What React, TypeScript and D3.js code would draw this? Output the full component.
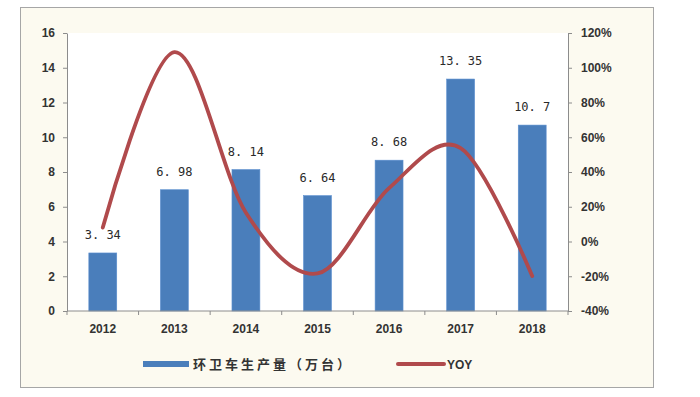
import { useEffect, useRef } from 'react';
import * as d3 from 'd3';

const years = ['2012', '2013', '2014', '2015', '2016', '2017', '2018'];
const output = [3.34, 6.98, 8.14, 6.64, 8.68, 13.35, 10.7];
const yoy = [0.08, 1.09, 0.166, -0.184, 0.307, 0.538, -0.199];
const leftTicks = [0, 2, 4, 6, 8, 10, 12, 14, 16];
const rightTicks = [-0.4, -0.2, 0, 0.2, 0.4, 0.6, 0.8, 1.0, 1.2];

const W = 700;
const H = 397;
const PLOT = { left: 67, right: 568, top: 33, bottom: 311 };
const FONT = '"Liberation Sans", Arial, sans-serif';

export default function App() {
  const svgRef = useRef<SVGSVGElement>(null);

  useEffect(() => {
    const svg = d3.select(svgRef.current!);
    svg.selectAll('*').remove();

    // outer frame
    svg.append('rect').attr('width', W).attr('height', H).attr('fill', '#ffffff');
    svg.append('rect')
      .attr('x', 20.5).attr('y', 7.5).attr('width', 633).attr('height', 380)
      .attr('fill', '#fcfaf0').attr('stroke', '#a6a6a6').attr('stroke-width', 1);
    svg.append('rect')
      .attr('x', PLOT.left).attr('y', PLOT.top)
      .attr('width', PLOT.right - PLOT.left).attr('height', PLOT.bottom - PLOT.top)
      .attr('fill', '#ffffff');

    const x = d3.scaleBand().domain(years).range([PLOT.left, PLOT.right]).paddingInner(0.61).paddingOuter(0.305);
    const y = d3.scaleLinear().domain([0, 16]).range([PLOT.bottom, PLOT.top]);
    const y2 = d3.scaleLinear().domain([-0.4, 1.2]).range([PLOT.bottom, PLOT.top]);
    const xc = (d: string) => x(d)! + x.bandwidth() / 2;

    // bars
    svg.append('g').selectAll('rect').data(output).join('rect')
      .attr('x', (_, i) => x(years[i])!)
      .attr('y', (d) => y(d))
      .attr('width', x.bandwidth())
      .attr('height', (d) => y(0) - y(d))
      .attr('fill', '#4a7ebb')
      .attr('stroke', '#5b8fcf')
      .attr('stroke-width', 0.6);

    // bar labels
    svg.append('g').selectAll('text').data(output).join('text')
      .attr('x', (_, i) => xc(years[i]))
      .attr('y', (d) => y(d) - 14)
      .attr('text-anchor', 'middle')
      .attr('font-family', '"DejaVu Sans Mono", monospace')
      .attr('font-size', 12)
      .attr('fill', '#2a2a2a')
      .text((d) => String(d).replace('.', '. '));

    // YOY line
    const line = d3.line<number>()
      .x((_, i) => xc(years[i]))
      .y((d) => y2(d))
      .curve(d3.curveCardinal.tension(0));
    svg.append('path')
      .datum(yoy)
      .attr('d', line)
      .attr('fill', 'none')
      .attr('stroke', '#b04a4c')
      .attr('stroke-width', 3.8)
      .attr('stroke-linecap', 'round');

    const axisStyle = (g: d3.Selection<SVGGElement, unknown, null, undefined>) => {
      g.select('.domain').attr('stroke', '#8c8c8c');
      g.selectAll('.tick line').attr('stroke', '#8c8c8c');
      g.selectAll('.tick text')
        .attr('fill', '#333')
        .attr('font-family', FONT)
        .attr('font-weight', 'bold')
        .attr('font-size', 12);
    };

    // left axis
    svg.append('g')
      .attr('transform', `translate(${PLOT.left},0)`)
      .call(d3.axisLeft(y).tickValues(leftTicks).tickSize(4).tickSizeOuter(0).tickPadding(8))
      .call(axisStyle);

    // right axis
    svg.append('g')
      .attr('transform', `translate(${PLOT.right},0)`)
      .call(d3.axisRight(y2).tickValues(rightTicks).tickSize(4).tickSizeOuter(0).tickPadding(9)
        .tickFormat((d) => `${Math.round(+d * 100)}%`))
      .call(axisStyle);

    // bottom axis with ticks between categories
    const bottom = svg.append('g').attr('transform', `translate(0,${PLOT.bottom})`);
    bottom.append('line')
      .attr('x1', PLOT.left).attr('x2', PLOT.right)
      .attr('stroke', '#8c8c8c');
    const step = x.step();
    bottom.selectAll('line.tk').data(d3.range(years.length + 1)).join('line')
      .attr('class', 'tk')
      .attr('x1', (i) => PLOT.left + i * step).attr('x2', (i) => PLOT.left + i * step)
      .attr('y1', 0).attr('y2', 4)
      .attr('stroke', '#8c8c8c');
    bottom.selectAll('text').data(years).join('text')
      .attr('x', (d) => xc(d))
      .attr('y', 22)
      .attr('text-anchor', 'middle')
      .attr('font-family', FONT)
      .attr('font-weight', 'bold')
      .attr('font-size', 12)
      .attr('fill', '#333')
      .text((d) => d);

    // legend
    const lg = svg.append('g').attr('transform', 'translate(0,364)');
    lg.append('rect').attr('x', 143).attr('y', -3).attr('width', 46).attr('height', 6).attr('fill', '#4a7ebb');
    lg.append('text')
      .attr('x', 193).attr('y', 4.5)
      .attr('font-family', '"Noto Sans CJK SC", sans-serif')
      .attr('font-size', 13)
      .attr('font-weight', 'bold')
      .attr('letter-spacing', 3)
      .attr('fill', '#333')
      .text('环卫车生产量（万台）');
    lg.append('line')
      .attr('x1', 398).attr('x2', 444).attr('y1', 0).attr('y2', 0)
      .attr('stroke', '#b04a4c').attr('stroke-width', 4).attr('stroke-linecap', 'round');
    lg.append('text')
      .attr('x', 447).attr('y', 4.5)
      .attr('font-family', FONT)
      .attr('font-weight', 'bold')
      .attr('font-size', 12)
      .attr('fill', '#333')
      .text('YOY');
  }, []);

  return (
    <div style={{ position: 'fixed', left: 0, top: 0 }}>
      <svg ref={svgRef} width={W} height={H} />
    </div>
  );
}
